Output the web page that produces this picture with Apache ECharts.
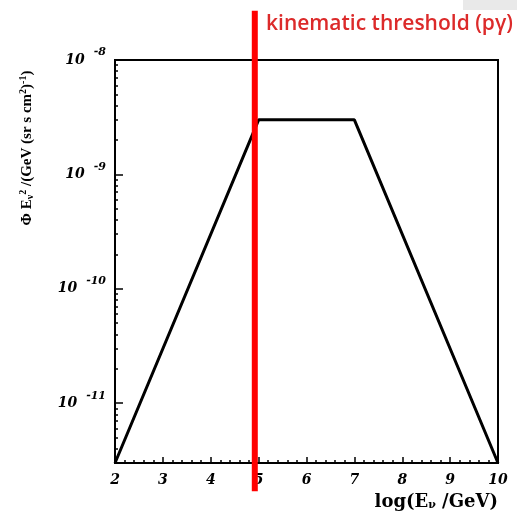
<!DOCTYPE html>
<html>
<head>
<meta charset="utf-8">
<script src="https://cdn.jsdelivr.net/npm/echarts@6/dist/echarts.min.js"></script>
<style>
html,body{margin:0;padding:0;background:#fff;}
#chart{width:517px;height:511px;}
</style>
</head>
<body>
<div id="chart"></div>
<script>
// Neutrino flux model: rising E^2 flux, plateau, falling edge
const logE = [2, 5, 7, 10];
const flux = [3e-12, 3e-9, 3e-9, 3e-12];

// Kinematic threshold marker (log E) and its vertical extent
const thresholdLogE = 4.92;
const thresholdSpan = [1.7e-12, 2.7e-8];
const thresholdText = 'kinematic threshold (pγ)';

// Axis ranges and tick values
const xRange = [2, 10];
const yRange = [3e-12, 1e-8];
const decadeTicks = [1e-11, 1e-10, 1e-9, 1e-8];
const decadeExponents = ['-11', '-10', '-9', '-8'];
const minorMultipliers = [2, 3, 4, 5, 6, 7, 8, 9];
const minorDecades = [1e-12, 1e-11, 1e-10, 1e-9];

const minorTicks = [];
minorDecades.forEach(d => minorMultipliers.forEach(m => {
  const v = m * d;
  if (v >= yRange[0] && v <= yRange[1]) minorTicks.push(v);
}));

const serif = '"DejaVu Serif", "Liberation Serif", serif';
const serifTitle = '"Liberation Serif", "DejaVu Serif", serif';

const chart = echarts.init(document.getElementById('chart'), null, {renderer: 'canvas'});

chart.setOption({
  animation: false,
  grid: {left: 115, right: 19, top: 60, bottom: 48, show: true,
    borderColor: '#000', borderWidth: 2, backgroundColor: 'transparent'},
  xAxis: {
    type: 'value', min: xRange[0], max: xRange[1], interval: 1,
    axisLine: {show: true, lineStyle: {color: '#000', width: 2}},
    axisTick: {show: true, inside: true, length: 6, lineStyle: {color: '#000', width: 1.5}},
    minorTick: {show: true, splitNumber: 5, length: 3, lineStyle: {color: '#000', width: 1.5}},
    splitLine: {show: false},
    axisLabel: {color: '#000', fontFamily: serif, fontWeight: 'bold', fontStyle: 'italic',
      fontSize: 14, margin: 10}
  },
  yAxis: [{
    type: 'log', min: yRange[0], max: yRange[1],
    axisLine: {show: true, lineStyle: {color: '#000', width: 2}},
    axisTick: {show: true, inside: true, length: 8, customValues: decadeTicks,
      lineStyle: {color: '#000', width: 1.5}},
    splitLine: {show: false},
    axisLabel: {
      customValues: decadeTicks, margin: 9, color: '#000',
      formatter: function (v) {
        let idx = -1;
        decadeTicks.forEach((t, i) => { if (Math.abs(Math.log10(t) - Math.log10(v)) < 1e-6) idx = i; });
        if (idx < 0) return '';
        return '{b|10}{g|}{s|' + decadeExponents[idx] + '}';
      },
      rich: {
        b: {fontFamily: serif, fontWeight: 'bold', fontStyle: 'italic', fontSize: 14, color: '#000'},
        g: {width: 9},
        s: {fontFamily: serif, fontWeight: 'bold', fontStyle: 'italic', fontSize: 11, color: '#000',
          padding: [0, 0, 15, 0]}
      }
    }
  }, {
    type: 'log', min: yRange[0], max: yRange[1], position: 'left',
    axisLine: {show: false},
    axisTick: {show: true, inside: true, length: 3, customValues: minorTicks,
      lineStyle: {color: '#000', width: 1.5}},
    axisLabel: {show: false},
    splitLine: {show: false}
  }],
  series: [{
    type: 'line', data: logE.map((x, i) => [x, flux[i]]),
    showSymbol: false, lineStyle: {color: '#000', width: 3},
    z: 3
  }, {
    type: 'line', clip: false,
    data: thresholdSpan.map(v => [thresholdLogE, v]),
    showSymbol: false, lineStyle: {color: '#ff0000', width: 6},
    z: 4
  }],
  graphic: [{
    type: 'rect', left: 463, top: 0, shape: {width: 54, height: 10},
    style: {fill: '#e9e9e9'}, silent: true, z: -1
  }, {
    type: 'text', left: 266, top: 14,
    style: {text: thresholdText, fill: '#dc2a2a', font: '600 21px "Open Sans", Lato, sans-serif'}
  }, {
    type: 'text', x: 498, y: 502,
    style: {
      text: '{n|log(E}{sub|ν}{n| /GeV)}',
      textAlign: 'right', textVerticalAlign: 'middle',
      rich: {
        n: {fontFamily: serif, fontWeight: 'bold', fontSize: 18, fill: '#000'},
        sub: {fontFamily: serif, fontWeight: 'bold', fontSize: 11, fill: '#000', padding: [7, 0, 0, 0]}
      }
    }
  }, {
    type: 'text', x: 27, y: 148, rotation: Math.PI / 2,
    style: {
      text: '{n|Φ E}{sub|ν}{sup|2}{n| /(GeV (sr s cm}{sup|2}{n|)}{sup|-1}{n|)}',
      textAlign: 'center', textVerticalAlign: 'middle',
      rich: {
        n: {fontFamily: serifTitle, fontWeight: 'bold', fontSize: 15, fill: '#000'},
        sub: {fontFamily: serifTitle, fontWeight: 'bold', fontSize: 10, fill: '#000', padding: [6, 0, 0, 0]},
        sup: {fontFamily: serifTitle, fontWeight: 'bold', fontSize: 10, fill: '#000', padding: [0, 0, 7, 0]}
      }
    }
  }]
});
</script>
</body>
</html>
